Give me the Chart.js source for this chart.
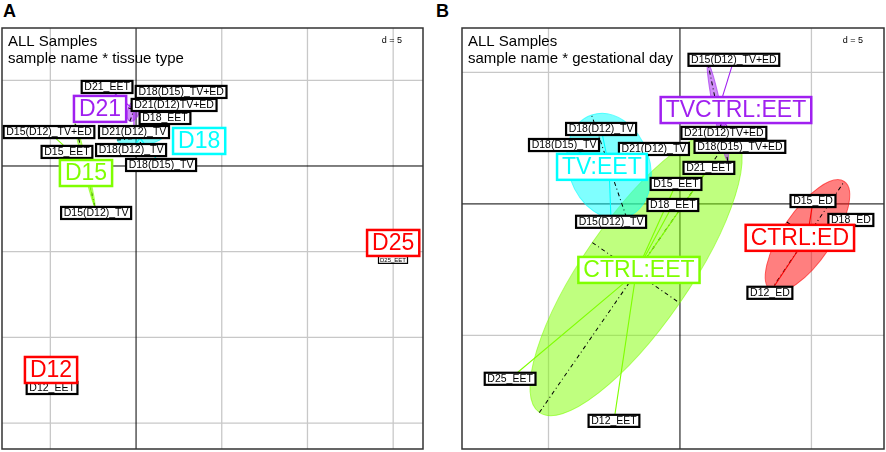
<!DOCTYPE html>
<html>
<head>
<meta charset="utf-8">
<script src="https://cdn.jsdelivr.net/npm/chart.js@4.4.1/dist/chart.umd.min.js"></script>
<style>
  body { margin: 0; background: #fff; width: 886px; height: 452px; overflow: hidden; position: relative;
         font-family: "Liberation Sans", Arial, sans-serif; }
  .panel { position: absolute; }
  .letter { position: absolute; font-weight: bold; font-size: 18px; line-height: 18px; }
</style>
</head>
<body>
<div class="letter" style="left:3px;top:2px">A</div>
<div class="letter" style="left:436px;top:2px">B</div>
<div class="panel" style="left:0;top:26px;width:425px;height:425px"><canvas id="chartA"></canvas></div>
<div class="panel" style="left:460px;top:26px;width:426px;height:425px"><canvas id="chartB"></canvas></div>

<script>
// ---- Panel A: sample name * tissue type ----
const samplesA = ["D21_EET", "D18(D15)_TV+ED", "D21(D12)TV+ED", "D18_EET", "D15(D12)_TV+ED", "D21(D12)_TV",
                  "D15_EET", "D18(D12)_TV", "D18(D15)_TV", "D15(D12)_TV", "D25_EET", "D12_EET"];
const sampleXA = [-1.69, 2.63, 2.22, 1.69, -5.08, -0.12, -4.03, -0.29, 1.46, -2.33, 14.99, -4.90];
const sampleYA = [4.61, 4.32, 3.56, 2.80, 1.98, 1.98, 0.82, 0.93, 0.06, -2.74, -5.48, -12.95];
const sampleClassA = ["D21", "D18", "D21", "D18", "D15", "D21", "D15", "D18", "D18", "D15", "D25", "D12"];

const classesA = ["D21", "D18", "D15", "D25", "D12"];
const classLabelXA = [-2.10, 3.68, -2.92, 15.0, -4.96];
const classLabelYA = [3.33, 1.46, -0.41, -4.49, -11.9];
// ellipse centre, semi axes and angle (degrees); null = single sample
const ellipseXA = [-0.12, 0.23, -2.98, null, null];
const ellipseYA = [3.27, 1.63, 0.06, null, null];
const ellipseAA = [0.70, 1.34, 2.51, null, null];
const ellipseBA = [0.35, 0.41, 0.12, null, null];
const ellipseAngleA = [70, 5, 103.4, null, null];

// ---- Panel B: sample name * gestational day ----
const samplesB = ["D15(D12)_TV+ED", "D21(D12)TV+ED", "D18(D15)_TV+ED", "D18(D12)_TV", "D18(D15)_TV", "D21(D12)_TV",
                  "D21_EET", "D15_EET", "D15_ED", "D18_EET", "D15(D12)_TV", "D18_ED", "D12_ED", "D25_EET", "D12_EET"];
const sampleXB = [2.05, 1.67, 2.28, -3.00, -4.41, -0.99, 1.10, -0.15, 5.06, -0.27, -2.62, 6.50, 3.42, -6.46, -2.51];
const sampleYB = [5.48, 2.70, 2.17, 2.85, 2.24, 2.09, 1.37, 0.76, 0.11, -0.04, -0.68, -0.61, -3.38, -6.65, -8.25];
const sampleClassB = ["TVCTRL:EET", "TVCTRL:EET", "TVCTRL:EET", "TV:EET", "TV:EET", "TV:EET",
                      "CTRL:EET", "CTRL:EET", "CTRL:ED", "CTRL:EET", "TV:EET", "CTRL:ED", "CTRL:ED", "CTRL:EET", "CTRL:EET"];

const classesB = ["CTRL:EET", "TV:EET", "TVCTRL:EET", "CTRL:ED"];
const classLabelXB = [-1.56, -2.97, 2.13, 4.56];
const classLabelYB = [-2.51, 1.41, 3.57, -1.29];
const ellipseXB = [-1.67, -2.70, 1.44, 4.85];
const ellipseYB = [-2.62, 1.44, 3.50, -1.22];
const ellipseAB = [6.46, 2.05, 1.90, 2.50];
const ellipseBB = [2.02, 1.55, 0.15, 0.95];
const ellipseAngleB = [55.3, 108.8, 101.5, 56];

const colorOf = {
  "D21": "#A020F0", "D18": "#00FFFF", "D15": "#7FFF00", "D25": "#FF0000", "D12": "#FF0000",
  "CTRL:EET": "#7FFF00", "TV:EET": "#00FFFF", "TVCTRL:EET": "#A020F0", "CTRL:ED": "#FF0000"
};

const FONT = '"Liberation Sans", Arial, sans-serif';

function rgba(hex, a) {
  const n = parseInt(hex.slice(1), 16);
  return `rgba(${(n >> 16) & 255},${(n >> 8) & 255},${n & 255},${a})`;
}

const panels = {
  chartA: {
    title: ["ALL Samples", "sample name * tissue type"],
    samples: samplesA, sx: sampleXA, sy: sampleYA, sclass: sampleClassA,
    classes: classesA, lx: classLabelXA, ly: classLabelYA,
    ex: ellipseXA, ey: ellipseYA, ea: ellipseAA, eb: ellipseBA, eang: ellipseAngleA,
    smallLabels: { "D25_EET": 6 },
    xRange: [-7.82, 16.74], yRange: [-16.51, 8.05]
  },
  chartB: {
    title: ["ALL Samples", "sample name * gestational day"],
    samples: samplesB, sx: sampleXB, sy: sampleYB, sclass: sampleClassB,
    classes: classesB, lx: classLabelXB, ly: classLabelYB,
    ex: ellipseXB, ey: ellipseYB, ea: ellipseAB, eb: ellipseBB, eang: ellipseAngleB,
    smallLabels: {},
    xRange: [-8.29, 7.76], yRange: [-9.32, 6.69]
  }
};

// Draws grid, ellipses, stars and the boxed labels (ade4 s.class look)
const classPlot = {
  id: "classPlot",
  beforeDatasetsDraw(chart) {
    const p = panels[chart.canvas.id];
    const { ctx, chartArea: ca, scales: { x, y } } = chart;
    const u = Math.abs(x.getPixelForValue(1) - x.getPixelForValue(0));
    ctx.save();
    ctx.beginPath(); ctx.rect(ca.left, ca.top, ca.width, ca.height); ctx.clip();

    // grid every 5 units
    ctx.strokeStyle = "#C8C8C8"; ctx.lineWidth = 1.3;
    for (let v = Math.ceil(x.min / 5) * 5; v <= x.max; v += 5) {
      if (v === 0) continue;
      const px = x.getPixelForValue(v);
      ctx.beginPath(); ctx.moveTo(px, ca.top); ctx.lineTo(px, ca.bottom); ctx.stroke();
    }
    for (let v = Math.ceil(y.min / 5) * 5; v <= y.max; v += 5) {
      if (v === 0) continue;
      const py = y.getPixelForValue(v);
      ctx.beginPath(); ctx.moveTo(ca.left, py); ctx.lineTo(ca.right, py); ctx.stroke();
    }
    ctx.strokeStyle = "#000"; ctx.lineWidth = 1;
    const x0 = x.getPixelForValue(0), y0 = y.getPixelForValue(0);
    ctx.beginPath(); ctx.moveTo(x0, ca.top); ctx.lineTo(x0, ca.bottom);
    ctx.moveTo(ca.left, y0); ctx.lineTo(ca.right, y0); ctx.stroke();

    // ellipses
    p.classes.forEach((c, i) => {
      if (p.ea[i] == null) return;
      const cx = x.getPixelForValue(p.ex[i]), cy = y.getPixelForValue(p.ey[i]);
      const a = p.ea[i] * u, b = p.eb[i] * u;
      ctx.save();
      ctx.translate(cx, cy); ctx.rotate(-p.eang[i] * Math.PI / 180);
      ctx.beginPath(); ctx.ellipse(0, 0, a, b, 0, 0, 2 * Math.PI);
      ctx.fillStyle = rgba(colorOf[c], 0.5); ctx.fill();
      ctx.strokeStyle = rgba(colorOf[c], 0.6); ctx.lineWidth = 1; ctx.stroke();
      ctx.setLineDash([4, 3, 1, 3]); ctx.strokeStyle = "#000"; ctx.lineWidth = 1;
      ctx.beginPath(); ctx.moveTo(-a, 0); ctx.lineTo(a, 0); ctx.moveTo(0, -b); ctx.lineTo(0, b); ctx.stroke();
      ctx.restore();
    });

    // stars from class centre to samples
    const pts = chart.getDatasetMeta(0).data;
    p.samples.forEach((s, j) => {
      const i = p.classes.indexOf(p.sclass[j]);
      if (p.ea[i] == null) return;
      ctx.strokeStyle = colorOf[p.sclass[j]]; ctx.lineWidth = 1.1;
      ctx.beginPath();
      ctx.moveTo(x.getPixelForValue(p.ex[i]), y.getPixelForValue(p.ey[i]));
      ctx.lineTo(pts[j].x, pts[j].y); ctx.stroke();
    });
    ctx.restore();
  },
  afterDatasetsDraw(chart) {
    const p = panels[chart.canvas.id];
    const { ctx, chartArea: ca, scales: { x, y } } = chart;
    const pts = chart.getDatasetMeta(0).data;
    ctx.save();
    ctx.textAlign = "center"; ctx.textBaseline = "middle";

    // sample labels
    p.samples.forEach((s, j) => {
      const fs = p.smallLabels[s] || 10.5;
      ctx.font = `${fs}px ${FONT}`;
      const w = ctx.measureText(s).width + fs * 0.5, h = fs * 1.15;
      const px = pts[j].x, py = pts[j].y;
      ctx.fillStyle = "#fff"; ctx.fillRect(px - w / 2, py - h / 2, w, h);
      ctx.strokeStyle = "#000"; ctx.lineWidth = fs > 8 ? 2.2 : 1.2;
      ctx.strokeRect(px - w / 2, py - h / 2, w, h);
      ctx.fillStyle = "#000"; ctx.fillText(s, px, py + 0.5);
    });

    // class labels
    ctx.font = `23px ${FONT}`;
    p.classes.forEach((c, i) => {
      const px = x.getPixelForValue(p.lx[i]), py = y.getPixelForValue(p.ly[i]);
      const w = ctx.measureText(c).width + 10, h = 26;
      ctx.fillStyle = "#fff"; ctx.fillRect(px - w / 2, py - h / 2, w, h);
      ctx.strokeStyle = colorOf[c]; ctx.lineWidth = 2.5;
      ctx.strokeRect(px - w / 2, py - h / 2, w, h);
      ctx.fillStyle = colorOf[c]; ctx.fillText(c, px, py + 1);
    });

    // title and scale note
    ctx.textAlign = "left"; ctx.textBaseline = "alphabetic";
    ctx.fillStyle = "#000"; ctx.font = `15px ${FONT}`;
    ctx.fillText(p.title[0], ca.left + 6, ca.top + 18);
    ctx.fillText(p.title[1], ca.left + 6, ca.top + 35);
    ctx.textAlign = "right"; ctx.font = `9px ${FONT}`;
    ctx.fillText("d = 5", ca.right - 21, ca.top + 15);

    // frame
    ctx.strokeStyle = "#333"; ctx.lineWidth = 1.5;
    ctx.strokeRect(ca.left, ca.top, ca.width, ca.height);
    ctx.restore();
  }
};

function makeChart(id) {
  const p = panels[id];
  return new Chart(document.getElementById(id), {
    type: "scatter",
    data: {
      datasets: [{ data: p.samples.map((s, i) => ({ x: p.sx[i], y: p.sy[i] })), pointRadius: 0 }]
    },
    options: {
      responsive: true,
      maintainAspectRatio: false,
      animation: false,
      layout: { padding: 2 },
      plugins: { legend: { display: false }, tooltip: { enabled: false } },
      scales: {
        x: { type: "linear", min: p.xRange[0], max: p.xRange[1], display: false },
        y: { type: "linear", min: p.yRange[0], max: p.yRange[1], display: false }
      }
    },
    plugins: [classPlot]
  });
}

makeChart("chartA");
makeChart("chartB");
</script>
</body>
</html>
